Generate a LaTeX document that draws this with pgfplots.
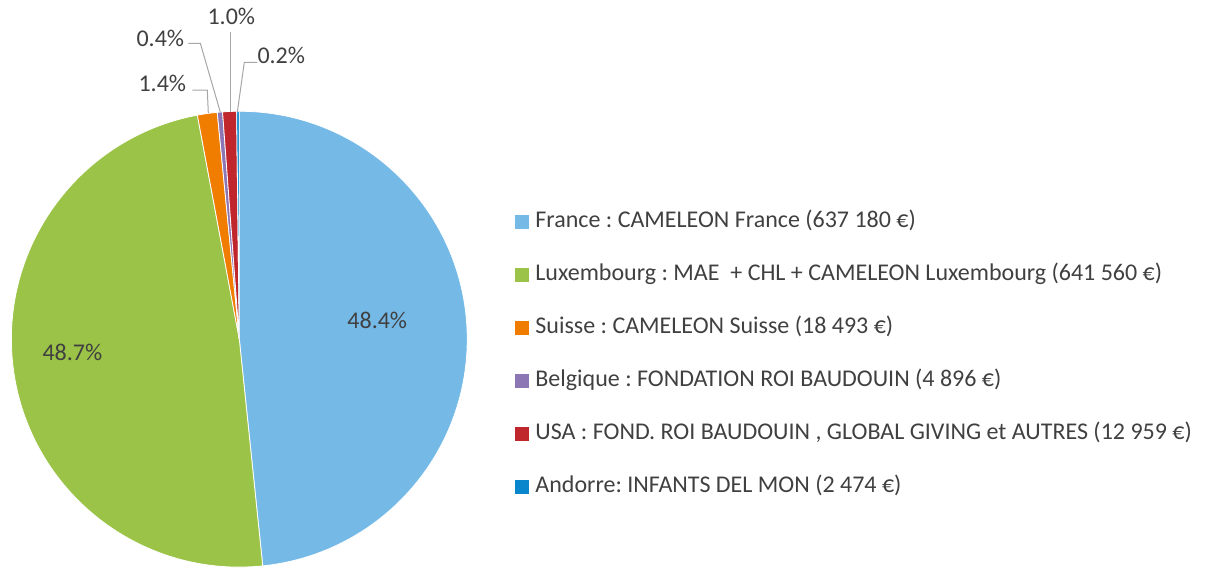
\documentclass[border=0pt]{standalone}
\usepackage{pgfplots}
\pgfplotsset{compat=1.18}
\usepackage{pgfplotstable}
\usepackage{fontspec}
\setmainfont{Carlito}
\definecolor{cFr}{HTML}{75B9E7}
\definecolor{cLu}{HTML}{9BC348}
\definecolor{cSu}{HTML}{F07D00}
\definecolor{cBe}{HTML}{8D76B4}
\definecolor{cUs}{HTML}{C0272D}
\definecolor{cAn}{HTML}{0A86CD}
\definecolor{txt}{HTML}{404040}
\definecolor{lead}{HTML}{A6A6A6}

% values in euros
\pgfplotstableread{
name value col
France 637180 cFr
Luxembourg 641560 cLu
Suisse 18493 cSu
Belgique 4896 cBe
USA 12959 cUs
Andorre 2474 cAn
}\pietable

% total and cumulative angles (computed with \fpeval)
\gdef\pietotal{0}
\foreach \i in {0,...,5}{%
  \pgfplotstablegetelem{\i}{value}\of\pietable
  \xdef\pietotal{\fpeval{\pietotal+\pgfplotsretval}}%
}
\gdef\piecum{0}
\expandafter\xdef\csname pieA0\endcsname{90}
\foreach \i in {0,...,5}{%
  \pgfplotstablegetelem{\i}{value}\of\pietable
  \xdef\piecum{\fpeval{\piecum+\pgfplotsretval}}%
  \pgfmathtruncatemacro\j{\i+1}%
  \expandafter\xdef\csname pieA\j\endcsname{\fpeval{round(90-360*\piecum/\pietotal,4)}}%
  \pgfplotstablegetelem{\i}{col}\of\pietable
  \expandafter\xdef\csname pieC\i\endcsname{\pgfplotsretval}%
}

\begin{document}
\frenchspacing
\fontsize{24}{29}\selectfont
\begin{tikzpicture}
\begin{axis}[
  x=1pt, y=1pt,
  xmin=0, xmax=1211, ymin=0, ymax=567,
  hide axis, clip=false,
  legend style={draw=none, fill=none, at={(axis cs:515,355)}, anchor=north west,
    inner sep=0pt, row sep=34pt, font=\frenchspacing\fontsize{24}{29}\selectfont, text=txt,
    nodes={inner sep=0pt, text height=15pt, text depth=4pt},
    /tikz/every odd column/.append style={column sep=6pt}},
  legend cell align=left,
  legend image code/.code={\path[#1] (0pt,-7pt) rectangle (14pt,7pt);},
]
\path (axis cs:0,0) rectangle (axis cs:1211,567);
\pgfplotsinvokeforeach{0,...,5}{%
  \fill[\csname pieC#1\endcsname, draw=white, line width=0.8pt]
    (axis cs:239,228) --
    (axis cs:{239+228*cos(\csname pieA#1\endcsname)},{228+228*sin(\csname pieA#1\endcsname)})
    arc[start angle=\csname pieA#1\endcsname, end angle=\csname pieA\the\numexpr#1+1\relax\endcsname, radius=228pt]
    -- cycle;
}
% leader lines
\draw[lead, line width=1pt] (axis cs:192,477) -- (axis cs:207,477) -- (axis cs:208,454);
\draw[lead, line width=1pt] (axis cs:188,524) -- (axis cs:200,524) -- (axis cs:220,455);
\draw[lead, line width=1pt] (axis cs:230,535) -- (axis cs:230,455);
\draw[lead, line width=1pt] (axis cs:257,505) -- (axis cs:244,505) -- (axis cs:237,455);
% percentage labels
\node[text=txt] at (axis cs:377,247) {48.4\%};
\node[text=txt] at (axis cs:72,215) {48.7\%};
\node[text=txt] at (axis cs:162,484) {1.4\%};
\node[text=txt] at (axis cs:160,529) {0.4\%};
\node[text=txt] at (axis cs:231,551) {1.0\%};
\node[text=txt] at (axis cs:281,512) {0.2\%};
% legend
\addlegendimage{fill=cFr, draw=none}
\addlegendentry{France : CAMELEON France (637 180 €)}
\addlegendimage{fill=cLu, draw=none}
\addlegendentry{Luxembourg : MAE \ + CHL + CAMELEON Luxembourg (641 560 €)}
\addlegendimage{fill=cSu, draw=none}
\addlegendentry{Suisse : CAMELEON Suisse (18 493 €)}
\addlegendimage{fill=cBe, draw=none}
\addlegendentry{Belgique : FONDATION ROI BAUDOUIN (4 896 €)}
\addlegendimage{fill=cUs, draw=none}
\addlegendentry{USA : FOND. ROI BAUDOUIN , GLOBAL GIVING et AUTRES (12 959 €)}
\addlegendimage{fill=cAn, draw=none}
\addlegendentry{Andorre: INFANTS DEL MON (2 474 €)}
\end{axis}
\end{tikzpicture}
\end{document}
